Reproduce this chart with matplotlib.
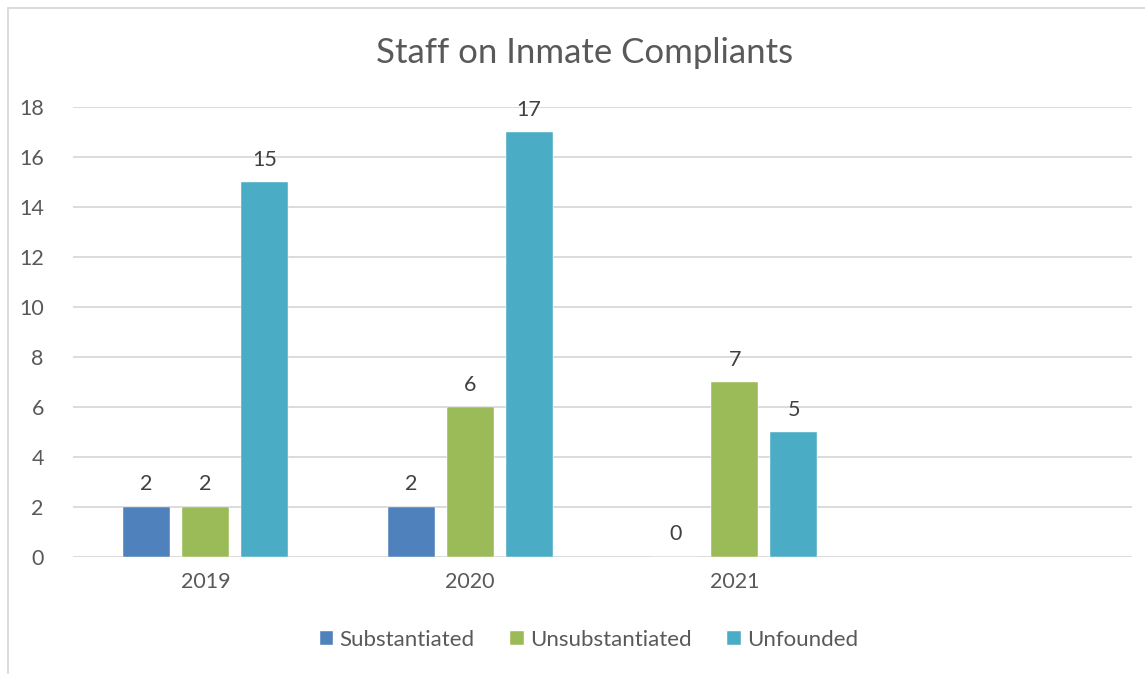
import matplotlib
matplotlib.use("Agg")
import matplotlib.pyplot as plt
from matplotlib.patches import Rectangle
import numpy as np

categories = ["2019", "2020", "2021", ""]
series_names = ["Substantiated", "Unsubstantiated", "Unfounded"]
substantiated = [2, 2, 0]
unsubstantiated = [2, 6, 7]
unfounded = [15, 17, 5]
yticks = [0, 2, 4, 6, 8, 10, 12, 14, 16, 18]
colors = ["#4F81BD", "#9BBB59", "#4BACC6"]

plt.rcParams['font.family'] = ['Lato', 'DejaVu Sans']
W, H = 1145, 674
fig = plt.figure(figsize=(W / 100, H / 100), dpi=100)
fig.patch.set_facecolor("white")

# chart border (partially visible)
fig.patches.append(Rectangle((8 / W, -0.05), 1.1, (H - 8) / H + 0.05, transform=fig.transFigure,
                             fill=False, edgecolor="#D9D9D9", linewidth=1.3, zorder=0))

ax = fig.add_axes([73 / W, 117 / H, (1132 - 73) / W, 450 / H])
ax.set_xlim(-0.5, 3.5)
ax.set_ylim(0, 18)

spacing = 59 / 264.75
width = 47 / 264.75
data = [substantiated, unsubstantiated, unfounded]
x = np.arange(len(substantiated))
for i, (vals, name, c) in enumerate(zip(data, series_names, colors)):
    pos = x + (i - 1) * spacing
    ax.bar(pos, vals, width, color=c, label=name, zorder=3,
           edgecolor="white", linewidth=0.3)
    for p, v in zip(pos, vals):
        ax.annotate(str(v), (p, v), xytext=(0, 9), textcoords="offset points",
                    ha="center", va="bottom", fontsize=15.5, color="#404040")

ax.set_yticks(yticks)
ax.set_xticks(np.arange(len(categories)))
ax.set_xticklabels(categories)
ax.yaxis.grid(True, color="#D9D9D9", linewidth=1.3, zorder=0)
ax.set_axisbelow(True)
for s in ["top", "right", "left", "bottom"]:
    ax.spines[s].set_visible(False)
ax.tick_params(axis="both", length=0, labelsize=15.5, labelcolor="#595959")
ax.tick_params(axis="x", pad=11)
ax.tick_params(axis="y", pad=21)

fig.text(585 / W, 1 - 53 / H, "Staff on Inmate Compliants", ha="center", va="center",
         fontsize=25, color="#595959")

leg = fig.legend(loc="center", bbox_to_anchor=(589 / W, 1 - 640 / H), ncol=3, frameon=False,
                 fontsize=16, handlelength=0.6, handleheight=0.6, handletextpad=0.3,
                 columnspacing=1.6)
for t in leg.get_texts():
    t.set_color("#595959")

fig.savefig("out.png", dpi=100, facecolor="white")
